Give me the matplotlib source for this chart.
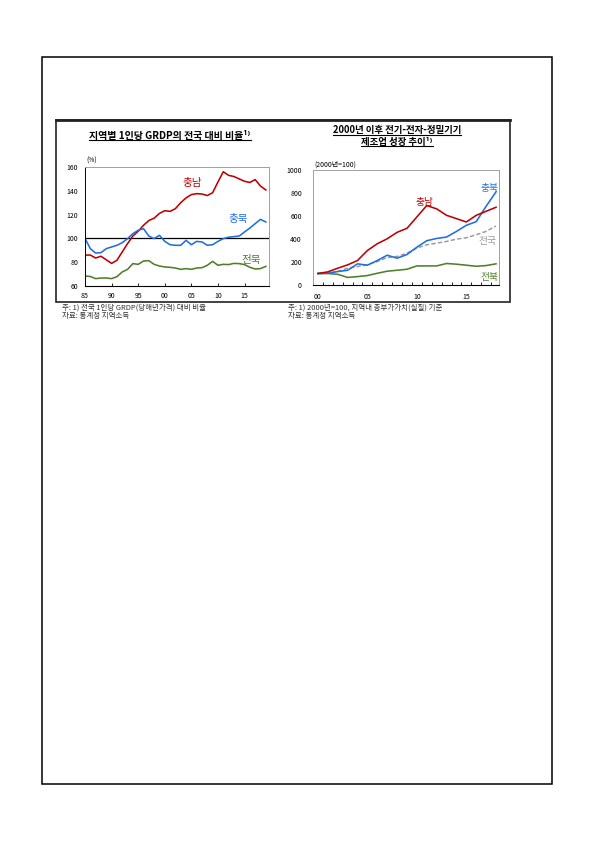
import matplotlib.pyplot as plt
from matplotlib.patches import Rectangle
from matplotlib.lines import Line2D

plt.rcParams['font.family'] = ['Noto Sans CJK KR', 'DejaVu Sans']

# left chart: GRDP per capita relative to national (%)
years_l = list(range(1985, 2020))
chungnam_l = [86, 86, 83.5, 85, 82, 79, 81.6, 88.6, 95.6, 102, 106, 111, 115, 117, 121,
              123.3, 122.7, 125, 130, 134, 136.8, 137.6, 137.3, 136, 138.4, 147.4, 156,
              153, 152, 150, 148, 147, 149.4, 144, 140.7]
chungbuk_l = [100, 91.4, 87.7, 88, 91.4, 92.8, 94.2, 96.4, 99.8, 104, 106.8, 108.2, 102,
              99.8, 102.6, 97.5, 94.7, 94.2, 94.2, 98.4, 94.7, 97.5, 97, 94.2, 94.7, 97.5,
              99.8, 101, 101.5, 102, 105.4, 108.7, 112.4, 116, 113.8]
jeonbuk_l = [68.4, 68, 66.2, 66.7, 66.7, 66.2, 67.8, 71.8, 74, 78.8, 78.2, 81, 81.3, 78.2,
             76.8, 76, 75.7, 75.1, 74, 74.6, 74, 75.1, 75.4, 77.4, 80.7, 77.4, 78.2, 78,
             79, 78.8, 78, 75.7, 74.3, 74.6, 76.5]
ticks_l = [1985, 1990, 1995, 2000, 2005, 2010, 2015]
ticklabels_l = ['85', '90', '95', '00', '05', '10', '15']

# right chart: electric/electronic/precision manufacturing (2000=100)
years_r = list(range(0, 19))
chungnam_r = [100, 114, 146, 175, 213, 300, 359, 402, 458, 493, 592, 691, 662, 606, 577,
              548, 606, 641, 676]
chungbuk_r = [100, 102, 117, 128, 184, 172, 213, 259, 233, 265, 329, 385, 405, 417, 466,
              519, 551, 685, 810]
national_r = [100, 102, 117, 146, 160, 178, 204, 239, 248, 277, 321, 350, 364, 379, 399,
              411, 437, 466, 513]
jeonbuk_r = [100, 100, 93, 66, 73, 82, 102, 120, 128, 137, 166, 166, 166, 187, 181, 172,
             163, 169, 184]
ticks_r = [0, 5, 10, 15]
ticklabels_r = ['00', '05', '10', '15']

RED = '#C00000'
BLUE = '#1F6FE0'
GREEN = '#4F7F2A'
GRAY = '#999999'

W, H = 595, 841
fig = plt.figure(figsize=(5.95, 8.41), dpi=100)


def fx(px):
    return px / W


def fy(py):
    return 1 - py / H


# page frame and chart box
fig.add_artist(Rectangle((fx(42), fy(784)), fx(552) - fx(42), fy(57) - fy(784),
                         transform=fig.transFigure, fill=False, lw=1.1, ec='black'))
fig.add_artist(Rectangle((fx(56), fy(302)), fx(510) - fx(56), fy(120) - fy(302),
                         transform=fig.transFigure, fill=False, lw=1.2, ec='#222222'))
fig.add_artist(Line2D([fx(56), fx(510)], [fy(120), fy(120)], transform=fig.transFigure,
                      lw=2.0, color='#222222'))

# ---- left chart ----
ax1 = fig.add_axes([fx(85), fy(286), fx(269) - fx(85), fy(167) - fy(286)])
ax1.axhline(100, color='black', lw=0.9, zorder=1)
ax1.plot(years_l, chungnam_l, color=RED, lw=1.15)
ax1.plot(years_l, chungbuk_l, color=BLUE, lw=1.15)
ax1.plot(years_l, jeonbuk_l, color=GREEN, lw=1.15)
ax1.set_xlim(1985, 2019.6)
ax1.set_ylim(60, 160)
ax1.set_yticks(range(60, 161, 20))
ax1.set_xticks(ticks_l)
ax1.set_xticklabels(ticklabels_l)
ax1.tick_params(axis='x', direction='in', length=2.5, width=0.6, labelsize=5, pad=4)
ax1.tick_params(axis='y', length=0, labelsize=5, pad=5)
for s in ['top', 'right']:
    ax1.spines[s].set_color('#A0A0A0')
    ax1.spines[s].set_linewidth(0.7)
ax1.spines['left'].set_linewidth(0.7)
ax1.spines['bottom'].set_linewidth(0.8)
ax1.text(2005.1, 146.5, '충남', color=RED, fontsize=7.6, ha='center', va='center')
ax1.text(2013.9, 116.3, '충북', color=BLUE, fontsize=7.6, ha='center', va='center')
ax1.text(2016.2, 81.8, '전북', color=GREEN, fontsize=7.6, ha='center', va='center')
fig.text(fx(86), fy(161), '(%)', fontsize=4.8, ha='left', va='center')

# ---- right chart ----
ax2 = fig.add_axes([fx(313), fy(285), fx(499) - fx(313), fy(170) - fy(285)])
ax2.plot(years_r, jeonbuk_r, color=GREEN, lw=1.15)
ax2.plot(years_r, national_r, color=GRAY, lw=1.05, ls=(0, (3, 1.5)))
ax2.plot(years_r, chungbuk_r, color=BLUE, lw=1.15)
ax2.plot(years_r, chungnam_r, color=RED, lw=1.15)
ax2.set_xlim(-0.4, 18.3)
ax2.set_ylim(0, 1000)
ax2.set_yticks(range(0, 1001, 200))
ax2.set_xticks(ticks_r)
ax2.set_xticklabels(ticklabels_r)
ax2.set_xticks([k + 0.5 for k in range(-1, 18)], minor=True)
ax2.tick_params(axis='x', which='major', length=0, labelsize=5, pad=6)
ax2.tick_params(axis='x', which='minor', direction='in', length=2.5, width=0.6)
ax2.tick_params(axis='y', length=0, labelsize=5, pad=8)
for s in ['top', 'right', 'left']:
    ax2.spines[s].set_color('#A0A0A0')
    ax2.spines[s].set_linewidth(0.7)
ax2.spines['bottom'].set_linewidth(0.8)
ax2.text(10.8, 723, '충남', color=RED, fontsize=7, ha='center', va='center')
ax2.text(17.3, 845, '충북', color=BLUE, fontsize=7, ha='center', va='center')
ax2.text(17.1, 379, '전국', color=GRAY, fontsize=7, ha='center', va='center')
ax2.text(17.3, 73, '전북', color=GREEN, fontsize=7, ha='center', va='center')
fig.text(fx(314), fy(165), '(2000년=100)', fontsize=5, ha='left', va='center')

# ---- titles (underlined) ----
titles = [
    (fx(170), fy(135.5), '지역별 1인당 GRDP의 전국 대비 비율¹⁾', 7.2),
    (fx(397), fy(130.5), '2000년 이후 전기-전자-정밀기기', 6.8),
    (fx(397), fy(141.5), '제조업 성장 추이¹⁾', 6.8),
]
title_objs = []
for x, y, s, size in titles:
    t = fig.text(x, y, s, fontsize=size, fontweight='bold', ha='center', va='center')
    title_objs.append(t)

fig.canvas.draw()
inv = fig.transFigure.inverted()
for t in title_objs:
    bb = t.get_window_extent().transformed(inv)
    uy = bb.y0 + 0.8 / H
    fig.add_artist(Line2D([bb.x0, bb.x1], [uy, uy],
                          transform=fig.transFigure, color='black', lw=0.8))

# ---- notes ----
note_kw = dict(fontsize=5.4, color='#333333', ha='left', va='center')
fig.text(fx(62), fy(308), '주: 1) 전국 1인당 GRDP(당해년가격) 대비 비율', **note_kw)
fig.text(fx(62), fy(316), '자료: 통계청 지역소득', **note_kw)
fig.text(fx(288), fy(308), '주: 1) 2000년=100, 지역내 총부가가치(실질) 기준', **note_kw)
fig.text(fx(288), fy(316), '자료: 통계청 지역소득', **note_kw)

fig.savefig('out.png', dpi=100)
